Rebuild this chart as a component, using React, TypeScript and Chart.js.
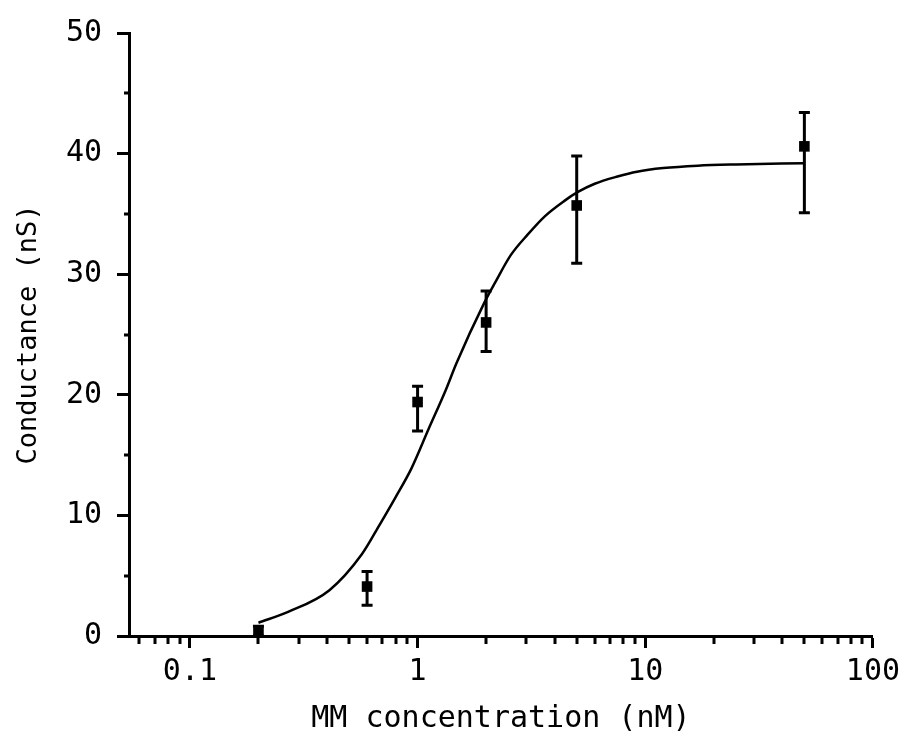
import React, { useEffect, useRef } from 'react';
import { Chart, registerables } from 'chart.js';

Chart.register(...registerables);

// Measured data points (MM concentration in nM, conductance in nS)
const pointX = [0.2, 0.6, 1, 2, 5, 50];
const pointY = [0.3, 4.1, 19.4, 26.0, 35.7, 40.6];
const errLow = [0, 2.55, 17.0, 23.6, 30.9, 35.1];
const errHigh = [0.8, 5.35, 20.7, 28.6, 39.8, 43.4];

// Fitted curve
const fitX = [0.2, 0.27, 0.41, 0.57, 0.68, 0.8, 0.94, 1.12, 1.33, 1.48, 1.96, 2.19, 2.57, 3.05, 3.62, 4.43, 5.04, 6.0, 7.55, 9.2, 12, 17, 25, 50];
const fitY = [1.1, 2.0, 3.8, 6.8, 9.2, 11.5, 13.9, 17.2, 20.4, 22.6, 27.6, 29.3, 31.6, 33.3, 34.8, 36.1, 36.8, 37.5, 38.1, 38.5, 38.8, 39.0, 39.1, 39.2];

// Axis ticks
const xMajorTicks = [0.1, 1, 10, 100];
const xMinorTicks = [0.06, 0.07, 0.08, 0.09, 0.2, 0.3, 0.4, 0.5, 0.6, 0.7, 0.8, 0.9, 2, 3, 4, 5, 6, 7, 8, 9, 20, 30, 40, 50, 60, 70, 80, 90];
const yMajorTicks = [0, 10, 20, 30, 40, 50];
const yMinorTicks = [5, 15, 25, 35, 45];

const FONT = 'DejaVu Sans Mono';

const extrasPlugin = {
  id: 'extras',
  afterDatasetsDraw(chart: any) {
    const { ctx } = chart;
    const x = chart.scales.x;
    const y = chart.scales.y;
    ctx.save();
    ctx.strokeStyle = '#000';
    ctx.lineWidth = 3;
    ctx.beginPath();
    pointX.forEach((v, i) => {
      const px = x.getPixelForValue(v);
      const top = y.getPixelForValue(errHigh[i]);
      const bot = y.getPixelForValue(errLow[i]);
      ctx.moveTo(px, top);
      ctx.lineTo(px, bot);
      ctx.moveTo(px - 5.5, top);
      ctx.lineTo(px + 5.5, top);
      ctx.moveTo(px - 5.5, bot);
      ctx.lineTo(px + 5.5, bot);
    });
    ctx.stroke();
    ctx.restore();
  },
  afterDraw(chart: any) {
    const { ctx } = chart;
    const x = chart.scales.x;
    const y = chart.scales.y;
    ctx.save();
    ctx.strokeStyle = '#000';
    ctx.lineWidth = 3;
    ctx.beginPath();
    xMinorTicks.forEach((v) => {
      const px = Math.round(x.getPixelForValue(v));
      ctx.moveTo(px, x.top);
      ctx.lineTo(px, x.top + 8);
    });
    yMinorTicks.forEach((v) => {
      const py = Math.round(y.getPixelForValue(v));
      ctx.moveTo(y.right - 5, py);
      ctx.lineTo(y.right, py);
    });
    ctx.stroke();
    ctx.restore();
  },
};

export default function App() {
  const ref = useRef<HTMLCanvasElement | null>(null);
  useEffect(() => {
    if (!ref.current) return;
    const chart = new Chart(ref.current, {
      type: 'scatter',
      data: {
        datasets: [
          {
            label: 'fit',
            data: fitX.map((v, i) => ({ x: v, y: fitY[i] })),
            showLine: true,
            borderColor: '#000',
            borderWidth: 2.5,
            pointRadius: 0,
            cubicInterpolationMode: 'monotone',
          } as any,
          {
            label: 'data',
            data: pointX.map((v, i) => ({ x: v, y: pointY[i] })),
            pointStyle: 'rect',
            pointRadius: 7.5,
            backgroundColor: '#000',
            borderWidth: 0,
            showLine: false,
          } as any,
        ],
      },
      options: {
        animation: false,
        responsive: false,
        layout: { padding: { top: 29, right: 30, left: 0, bottom: 0 } },
        plugins: { legend: { display: false }, tooltip: { enabled: false } },
        scales: {
          x: {
            type: 'logarithmic',
            min: 0.054,
            max: 100,
            afterBuildTicks: (s: any) => {
              s.ticks = xMajorTicks.map((v) => ({ value: v }));
            },
            afterFit: (s: any) => {
              s.height = 119;
            },
            ticks: {
              color: '#000',
              padding: 6,
              maxRotation: 0,
              autoSkip: false,
              font: { family: FONT, size: 30 },
              callback: (v: any) => String(v),
            },
            grid: {
              drawOnChartArea: false,
              drawTicks: true,
              tickLength: 12,
              tickWidth: 3,
              tickColor: '#000',
            },
            border: { display: true, color: '#000', width: 3 },
            title: {
              display: true,
              text: 'MM concentration (nM)',
              color: '#000',
              font: { family: FONT, size: 30 },
              padding: { top: 0, bottom: 18 },
            },
          },
          y: {
            type: 'linear',
            min: 0,
            max: 50,
            afterBuildTicks: (s: any) => {
              s.ticks = yMajorTicks.map((v) => ({ value: v }));
            },
            afterFit: (s: any) => {
              s.width = 129;
            },
            ticks: {
              color: '#000',
              padding: 15,
              font: { family: FONT, size: 30 },
              callback: (v: any) => String(v),
            },
            grid: {
              drawOnChartArea: false,
              drawTicks: true,
              tickLength: 12,
              tickWidth: 3,
              tickColor: '#000',
            },
            border: { display: true, color: '#000', width: 3 },
            title: {
              display: true,
              text: 'Conductance (nS)',
              color: '#000',
              font: { family: FONT, size: 27 },
              padding: { top: 13, bottom: 0 },
            },
          },
        },
      } as any,
      plugins: [extrasPlugin],
    });
    return () => chart.destroy();
  }, []);

  return (
    <div style={{ position: 'absolute', left: 0, top: 0, width: 906, height: 755, background: '#fff' }}>
      <canvas ref={ref} width={906} height={755} />
    </div>
  );
}
